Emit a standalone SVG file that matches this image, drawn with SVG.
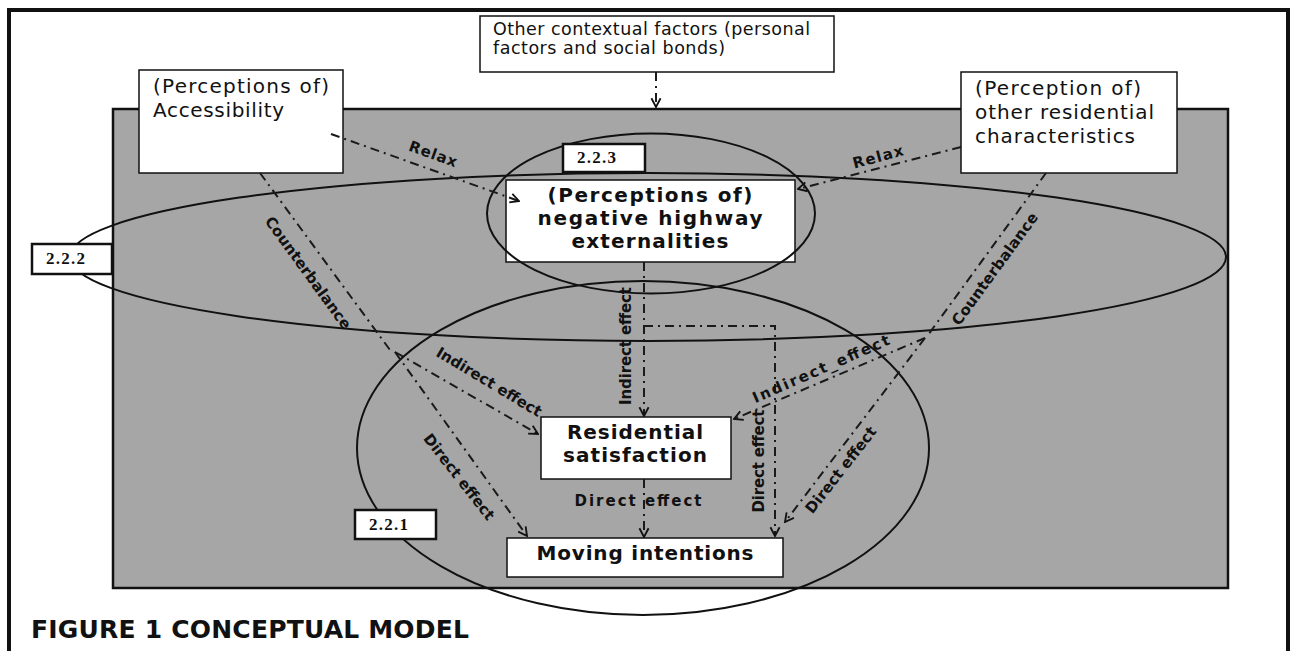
<svg xmlns="http://www.w3.org/2000/svg" width="1292" height="651" viewBox="0 0 1292 651">
<style>
  .box { fill: #ffffff; stroke: #111; stroke-width: 1.5; }
  .lbl { fill: #ffffff; stroke: #111; stroke-width: 2.5; }
  .ell { fill: none; stroke: #111; stroke-width: 2; }
  .con { fill: none; stroke: #1a1a1a; stroke-width: 2; stroke-dasharray: 9 5 2 5; }
  .t { font-family: "DejaVu Sans", Verdana, sans-serif; fill: #111; }
  .tb { font-family: "DejaVu Sans", Verdana, sans-serif; font-weight: bold; fill: #111; }
  .ts { font-family: "Liberation Serif", "Times New Roman", serif; font-weight: bold; font-size: 17px; fill: #111; }
  .cl { font-family: "DejaVu Sans", Verdana, sans-serif; font-weight: bold; font-size: 15px; fill: #111; text-anchor: middle; dominant-baseline: central; }
</style>
<defs>
  <marker id="arr" viewBox="0 0 12 12" refX="10.5" refY="6" markerWidth="11" markerHeight="12" markerUnits="userSpaceOnUse" orient="auto">
    <path d="M1,1 L10.5,6 L1,11" fill="none" stroke="#111" stroke-width="2"/>
  </marker>
</defs>

<!-- outer frame -->
<rect x="9" y="10" width="1279" height="700" fill="#ffffff" stroke="#111" stroke-width="4"/>

<!-- gray area -->
<rect id="area" x="113" y="109" width="1115" height="479" fill="#a6a6a6" stroke="#111" stroke-width="2.5"/>

<!-- node below ellipses -->
<g id="node-highway">
  <rect class="box" x="506" y="180" width="289" height="82"/>
  <text class="tb" font-size="20" x="650" y="202" text-anchor="middle" textLength="205" lengthAdjust="spacing">(Perceptions of)</text>
  <text class="tb" font-size="20" x="650" y="225" text-anchor="middle" textLength="225" lengthAdjust="spacing">negative  highway</text>
  <text class="tb" font-size="20" x="650" y="248" text-anchor="middle" textLength="157" lengthAdjust="spacing">externalities</text>
</g>

<!-- ellipses -->
<g id="ellipses">
  <ellipse id="e222" class="ell" cx="648" cy="257" rx="578" ry="84"/>
  <ellipse id="e223" class="ell" cx="651" cy="213.5" rx="164" ry="80"/>
  <ellipse id="e221" class="ell" cx="643" cy="448" rx="286" ry="167"/>
</g>

<g id="node-context">
  <rect class="box" x="480" y="16" width="354" height="56"/>
  <text class="t" font-size="17.5" x="493" y="35" textLength="317" lengthAdjust="spacing">Other contextual factors (personal</text>
  <text class="t" font-size="17.5" x="493" y="54" textLength="232" lengthAdjust="spacing">factors and social bonds)</text>
</g>

<g id="node-access">
  <rect class="box" x="139" y="70" width="204" height="103"/>
  <text class="t" font-size="20" x="153" y="93" textLength="176" lengthAdjust="spacing">(Perceptions of)</text>
  <text class="t" font-size="20" x="153" y="117" textLength="131" lengthAdjust="spacing">Accessibility</text>
</g>

<g id="node-other">
  <rect class="box" x="961" y="72" width="216" height="101"/>
  <text class="t" font-size="20" x="975" y="95" textLength="166" lengthAdjust="spacing">(Perception of)</text>
  <text class="t" font-size="20" x="975" y="119" textLength="179" lengthAdjust="spacing">other residential</text>
  <text class="t" font-size="20" x="975" y="143" textLength="160" lengthAdjust="spacing">characteristics</text>
</g>

<g id="node-satisfaction">
  <rect class="box" x="541" y="417" width="190" height="62"/>
  <text class="tb" font-size="20" x="635" y="439" text-anchor="middle" textLength="136" lengthAdjust="spacing">Residential</text>
  <text class="tb" font-size="20" x="635" y="462" text-anchor="middle" textLength="144" lengthAdjust="spacing">satisfaction</text>
</g>

<g id="node-moving">
  <rect class="box" x="507" y="538" width="276" height="39"/>
  <text class="tb" font-size="20" x="645" y="560" text-anchor="middle" textLength="217" lengthAdjust="spacing">Moving intentions</text>
</g>

<!-- section labels -->
<g id="label-222">
  <rect class="lbl" x="32" y="244" width="80" height="30"/>
  <text class="ts" x="46" y="264" textLength="39" lengthAdjust="spacing">2.2.2</text>
</g>
<g id="label-223">
  <rect class="lbl" x="563" y="144" width="82" height="28"/>
  <text class="ts" x="577" y="163" textLength="39" lengthAdjust="spacing">2.2.3</text>
</g>
<g id="label-221">
  <rect class="lbl" x="355" y="510" width="81" height="29"/>
  <text class="ts" x="369" y="530" textLength="39" lengthAdjust="spacing">2.2.1</text>
</g>

<!-- connectors -->
<g id="connectors">
  <path class="con" d="M656,72 V107" marker-end="url(#arr)"/>
  <path class="con" d="M331,134 L519,201" marker-end="url(#arr)"/>
  <path class="con" d="M961,147 L798,189" marker-end="url(#arr)"/>
  <path class="con" d="M260,173 L390,350"/>
  <path class="con" d="M395,352 L538,434" marker-end="url(#arr)"/>
  <path class="con" d="M395,352 L527,536" marker-end="url(#arr)"/>
  <path class="con" d="M1046,173 L928,335"/>
  <path class="con" d="M925,338 L734,419" marker-end="url(#arr)"/>
  <path class="con" d="M925,338 L785,522" marker-end="url(#arr)"/>
  <path class="con" d="M644,262 V416" marker-end="url(#arr)"/>
  <path class="con" d="M644,326 H775 V536" marker-end="url(#arr)"/>
  <path class="con" d="M644,479 V537" marker-end="url(#arr)"/>
</g>

<!-- connector labels -->
<g id="connector-labels">
  <text class="cl" transform="translate(433,154) rotate(20)" textLength="50" lengthAdjust="spacing">Relax</text>
  <text class="cl" transform="translate(878,157) rotate(-15)" textLength="52" lengthAdjust="spacing">Relax</text>
  <text class="cl" transform="translate(308,273) rotate(54)" textLength="135" lengthAdjust="spacing">Counterbalance</text>
  <text class="cl" transform="translate(995,269) rotate(-54)" textLength="135" lengthAdjust="spacing">Counterbalance</text>
  <text class="cl" transform="translate(489,382) rotate(31)" textLength="120" lengthAdjust="spacing">Indirect effect</text>
  <text class="cl" transform="translate(459,477) rotate(52)" textLength="105" lengthAdjust="spacing">Direct effect</text>
  <text class="cl" transform="translate(626,346) rotate(-90)" textLength="118" lengthAdjust="spacing">Indirect effect</text>
  <text class="cl" transform="translate(759,461) rotate(-90)" textLength="103" lengthAdjust="spacing">Direct effect</text>
  <text class="cl" transform="translate(841,470) rotate(-52)" textLength="105" lengthAdjust="spacing">Direct effect</text>
  <text class="cl" transform="translate(821,369) rotate(-23.6)" textLength="148" lengthAdjust="spacing">Indirect_effect</text>
  <text class="cl" font-size="17" transform="translate(638,501)" textLength="127" lengthAdjust="spacing">Direct effect</text>
</g>

<text class="tb" font-size="25" x="31" y="638" textLength="438" lengthAdjust="spacing">FIGURE 1 CONCEPTUAL MODEL</text>
</svg>
